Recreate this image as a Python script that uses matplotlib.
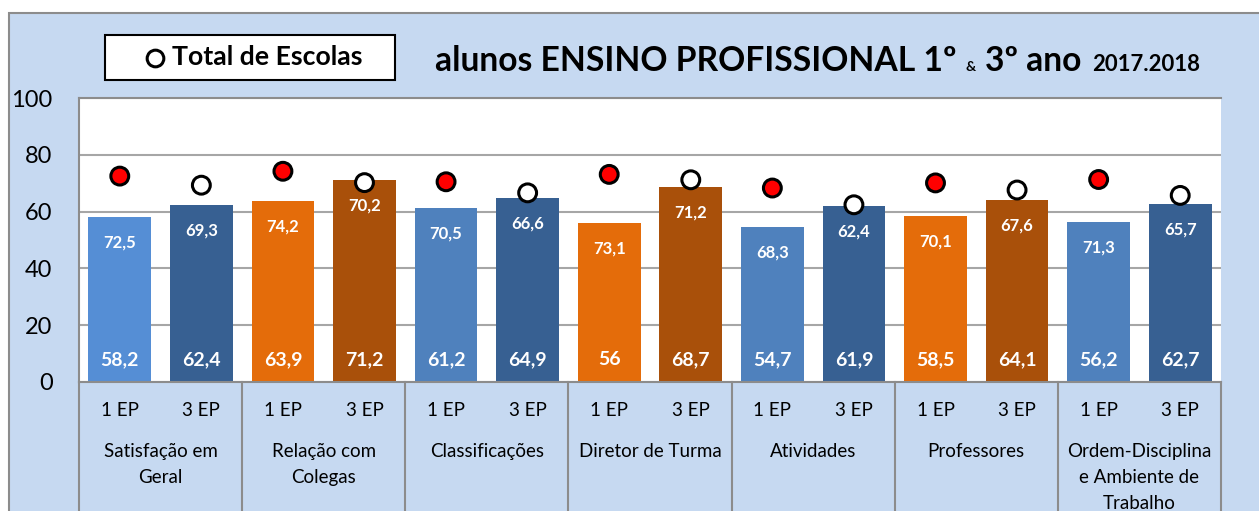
"""Alunos ensino profissional 1º & 3º ano 2017.2018"""
import matplotlib
matplotlib.use('Agg')
import matplotlib.pyplot as plt
from matplotlib.patches import Rectangle
from matplotlib.lines import Line2D
import numpy as np

plt.rcParams['font.family'] = ['Lato', 'DejaVu Sans']

W, H, DPI = 1259, 511, 100

groups = ['Satisfação em\nGeral', 'Relação com\nColegas', 'Classificações',
          'Diretor de Turma', 'Atividades', 'Professores',
          'Ordem-Disciplina\ne Ambiente de\nTrabalho']
years = ['1 EP', '3 EP']
alunos = [58.2, 62.4, 63.9, 71.2, 61.2, 64.9, 56.0, 68.7, 54.7, 61.9, 58.5, 64.1, 56.2, 62.7]
total_escolas = [72.5, 69.3, 74.2, 70.2, 70.5, 66.6, 73.1, 71.2, 68.3, 62.4, 70.1, 67.6, 71.3, 65.7]

bar_colors = ['#558ED5', '#376092', '#E46C0A', '#A9500A', '#4F81BD', '#376092', '#E46C0A',
              '#A9500A', '#4F81BD', '#376092', '#E46C0A', '#A9500A', '#4F81BD', '#376092']
BG = '#C6D9F1'
GRID = '#A6A6A6'
EDGE = '#8C8C8C'


def fmt(v):
    return f'{v:g}'.replace('.', ',')


fig = plt.figure(figsize=(W / DPI, H / DPI), dpi=DPI, facecolor='white')
fig.add_artist(Rectangle((9 / W, -0.1), 1.2, 1 - 13 / H + 0.1, transform=fig.transFigure,
                         facecolor=BG, edgecolor=EDGE, lw=1.5, zorder=0))

left, right, top, bottom = 79, 1221, 98, 382
ax = fig.add_axes([left / W, 1 - bottom / H, (right - left) / W, (bottom - top) / H])
ax.set_facecolor('white')

x = np.arange(len(alunos))
ax.bar(x, alunos, width=0.77, color=bar_colors, zorder=2)
mcol = ['#FF0000' if i % 2 == 0 else 'white' for i in x]
ax.scatter(x, total_escolas, s=165, c=mcol, edgecolors='black', linewidths=2.2, zorder=4, clip_on=False)

for xi, a, t in zip(x, alunos, total_escolas):
    ax.text(xi, 8, fmt(a), ha='center', va='center', color='white', fontsize=14, fontweight='bold', zorder=5)
    ax.text(xi, a - 9, fmt(t), ha='center', va='center', color='white', fontsize=12, fontweight='bold', zorder=5)

ax.set_xlim(-0.5, len(alunos) - 0.5)
ax.set_ylim(0, 100)
ax.set_yticks(range(0, 101, 20))
ax.set_xticks([])
ax.tick_params(axis='y', length=0, pad=19, labelsize=17)
ax.yaxis.grid(True, color=GRID, lw=1.5, zorder=0)
ax.set_axisbelow(True)
for s in ['left', 'bottom', 'top']:
    ax.spines[s].set_color(EDGE)
    ax.spines[s].set_linewidth(1.5)
ax.spines['right'].set_visible(False)

# multi-level category axis
xt = ax.get_xaxis_transform()
ph = bottom - top
ax.add_patch(Rectangle((-0.5, -0.6), len(alunos), 0.6, transform=xt, facecolor=BG,
                       edgecolor='none', clip_on=False, zorder=0))
for k in range(len(groups) + 1):
    ax.plot([2 * k - 0.5] * 2, [0, -0.6], transform=xt, color=EDGE, lw=1.5, clip_on=False)
for i in x:
    ax.text(i, -(410 - bottom) / ph, years[i % 2], transform=xt, ha='center', va='center', fontsize=13.5)
for g, name in enumerate(groups):
    ax.text(2 * g + 0.5, -(443 - bottom) / ph, name, transform=xt, ha='center', va='top',
            fontsize=13.5, linespacing=1.65)

fig.canvas.draw()
r = fig.canvas.get_renderer()


def run(pieces, gaps, x0, x1, base, size0):
    scale = 1.0
    for _ in range(2):
        arts, xx = [], x0
        for (s, rel), g in zip(pieces, gaps):
            t = fig.text(xx / W, 1 - base / H, s, fontsize=size0 * rel * scale, fontweight='bold',
                         va='baseline', ha='left')
            arts.append(t)
            xx += t.get_window_extent(r).width + g
        width = xx - gaps[-1] - x0
        if _ == 0:
            for t in arts:
                t.remove()
            scale *= (x1 - x0 - sum(gaps[:-1])) / (width - sum(gaps[:-1]))
    return arts


run([('alunos ENSINO PROFISSIONAL 1º', 1.0), ('&', 0.42), ('3º ano', 1.0), ('2017.2018', 0.66)],
    [9, 9, 11, 0], 435, 1200, 71, 24)

# legend box
fig.add_artist(Rectangle((105 / W, 1 - 80 / H), 290 / W, 45 / H, transform=fig.transFigure,
                         facecolor='white', edgecolor='black', lw=1.5, zorder=1))
fig.add_artist(Line2D([154.5 / W], [1 - 58 / H], transform=fig.transFigure, marker='o', ms=12,
                      mfc='white', mec='black', mew=2.2, zorder=2))
run([('Total de Escolas', 1.0)], [0], 172, 363, 65, 18)

fig.savefig('out.png', dpi=DPI, facecolor='white')
plt.close(fig)
